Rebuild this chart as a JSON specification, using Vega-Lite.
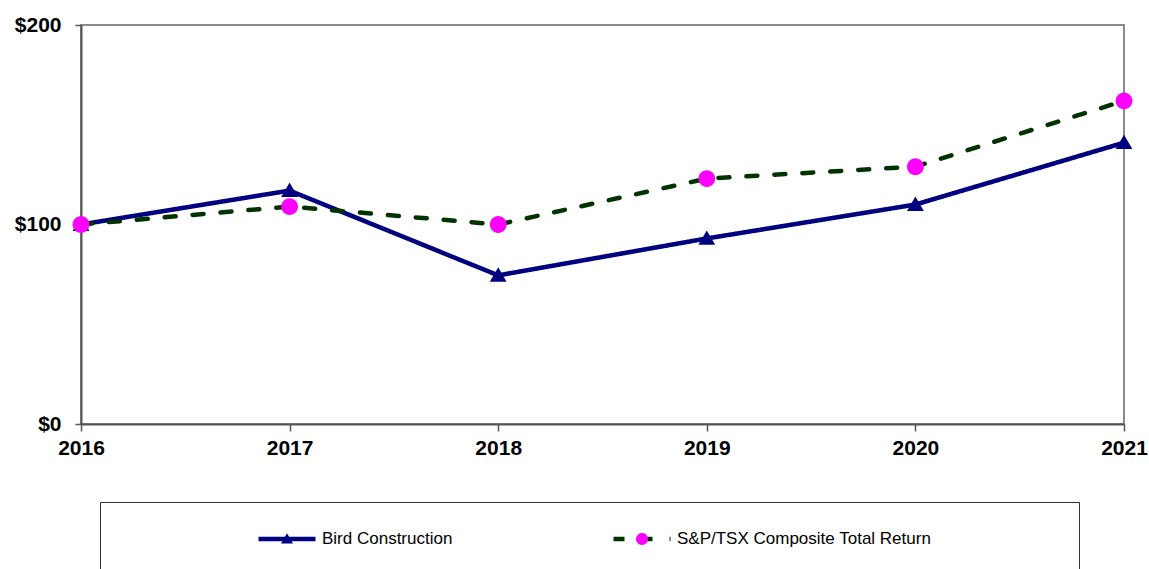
{
  "$schema": "https://vega.github.io/schema/vega-lite/v6.json",
  "width": 1043,
  "height": 399,
  "autosize": {"type": "none"},
  "padding": {"left": 81, "top": 25, "right": 25, "bottom": 145},
  "background": "white",
  "config": {
    "view": {"stroke": "#8a8a8a", "strokeWidth": 2},
    "axis": {"grid": false, "domainColor": "#555555", "domainWidth": 2, "tickColor": "#555555", "tickWidth": 1.5, "labelFont": "Liberation Sans", "labelFontWeight": "bold", "labelFontSize": 21, "labelColor": "#000000", "labelFlush": false, "title": null}
  },
  "data": {
    "values": [
      {"year": 2016, "series": "Bird Construction", "value": 100},
      {"year": 2017, "series": "Bird Construction", "value": 117},
      {"year": 2018, "series": "Bird Construction", "value": 74.5},
      {"year": 2019, "series": "Bird Construction", "value": 93},
      {"year": 2020, "series": "Bird Construction", "value": 110},
      {"year": 2021, "series": "Bird Construction", "value": 141},
      {"year": 2016, "series": "S&P/TSX Composite Total Return", "value": 100},
      {"year": 2017, "series": "S&P/TSX Composite Total Return", "value": 109},
      {"year": 2018, "series": "S&P/TSX Composite Total Return", "value": 100},
      {"year": 2019, "series": "S&P/TSX Composite Total Return", "value": 123},
      {"year": 2020, "series": "S&P/TSX Composite Total Return", "value": 129},
      {"year": 2021, "series": "S&P/TSX Composite Total Return", "value": 162}
    ]
  },
  "encoding": {
    "x": {"field": "year", "type": "quantitative", "scale": {"domain": [2016, 2021], "nice": false, "zero": false},
      "axis": {"values": [2016, 2017, 2018, 2019, 2020, 2021], "format": "d", "tickSize": 7, "labelPadding": 6}},
    "y": {"field": "value", "type": "quantitative", "scale": {"domain": [0, 200], "nice": false},
      "axis": {"values": [0, 100, 200], "labelExpr": "'$' + format(datum.value, 'd')", "tickSize": 6, "labelPadding": 14}}
  },
  "layer": [
    {
      "mark": {"type": "line", "strokeWidth": 4.5, "strokeCap": "round", "strokeJoin": "round"},
      "encoding": {
        "color": {"field": "series", "type": "nominal",
          "scale": {"domain": ["Bird Construction", "S&P/TSX Composite Total Return"], "range": ["#000080", "#003300"]},
          "legend": {"orient": "none", "legendX": 19, "legendY": 477, "direction": "horizontal", "columns": 2,
            "title": " ", "titleOrient": "left", "titleFontSize": 1, "titlePadding": 150,
            "padding": 6,
            "symbolType": "stroke", "symbolSize": 3249, "symbolStrokeWidth": 4.5,
            "labelFont": "Liberation Sans", "labelFontSize": 17, "labelColor": "#000000", "labelOffset": 4, "labelLimit": 0, "columnPadding": 151}},
        "strokeDash": {"field": "series", "type": "nominal",
          "scale": {"domain": ["Bird Construction", "S&P/TSX Composite Total Return"], "range": [[1, 0], [11, 17]]}}
      }
    },
    {
      "mark": {"type": "point", "filled": true, "size": 6400, "opacity": 1, "strokeWidth": 0},
      "encoding": {
        "fill": {"field": "series", "type": "nominal",
          "scale": {"range": ["#000080", "#ff00ff"]},
          "legend": {"orient": "none", "legendX": 19, "legendY": 477, "direction": "horizontal", "columns": 2,
            "title": " ", "titleOrient": "left", "titleFontSize": 1, "titlePadding": 150,
            "padding": 6, "strokeColor": "#333333",
            "symbolSize": 3249, "symbolStrokeWidth": 4.5, "symbolStrokeColor": "transparent", "symbolOpacity": 1,
            "labelFont": "Liberation Sans", "labelFontSize": 17, "labelOpacity": 0, "labelOffset": 4, "labelLimit": 0, "columnPadding": 151}},
        "shape": {"field": "series", "type": "nominal",
          "scale": {"range": [
            "M-1,0M1,0M0,1.05M-0.21,0.16L0,-0.2L0.21,0.16Z",
            "M-1,0M1,0M0,1.05M14.8,0M0.21,0A0.21,0.21,0,1,1,-0.21,0A0.21,0.21,0,1,1,0.21,0Z"
          ]}}
      }
    }
  ]
}
